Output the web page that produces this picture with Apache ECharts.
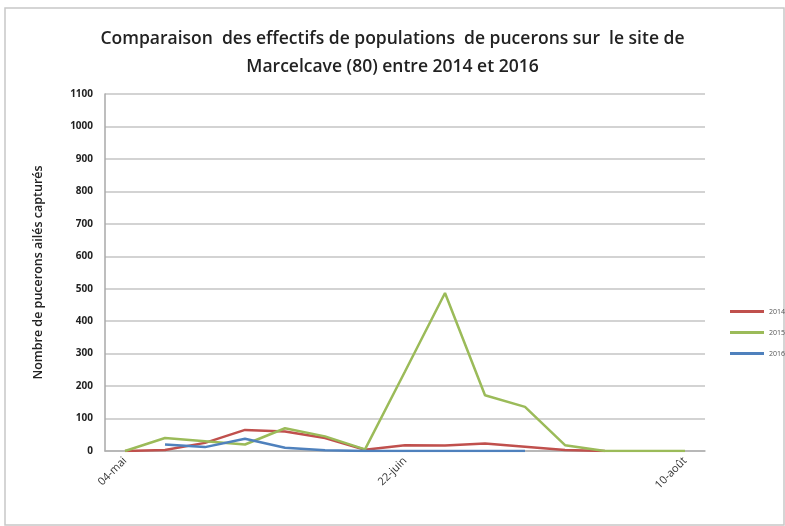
<!DOCTYPE html>
<html><head><meta charset="utf-8">
<script src="https://cdn.jsdelivr.net/npm/echarts@6/dist/echarts.min.js"></script>
<style>html,body{margin:0;padding:0;background:#fff}#c{width:785px;height:526px}</style>
</head><body><div id="c"></div>
<script>
const categories = ['04-mai','11-mai','18-mai','25-mai','01-juin','08-juin','15-juin','22-juin','29-juin','06-juil','13-juil','20-juil','27-juil','03-août','10-août'];
const s2014 = [0, 3, 25, 65, 60, 40, 4, 18, 17, 23, 13, 3, 0, null, null];
const s2015 = [0, 40, 30, 20, 70, 45, 5, 245, 487, 172, 136, 18, 0, 0, 0];
const s2016 = [null, 20, 12, 38, 10, 2, 0, 0, 0, 0, 0, null, null, null, null];
const seriesNames = ['2014', '2015', '2016'];
const colors = ['#c0504d', '#9bbb59', '#4f81bd'];
const yTicks = {min: 0, max: 1100, interval: 100};

const chart = echarts.init(document.getElementById('c'), null, {renderer: 'canvas'});
const mk = (name, data, color) => ({
  name, type: 'line', data, symbol: 'none', smooth: false, connectNulls: false,
  lineStyle: {width: 2.5, color}, itemStyle: {color}
});
chart.setOption({
  animation: false,
  backgroundColor: '#fff',
  graphic: [{type: 'rect', shape: {x: 5, y: 8, width: 779, height: 517}, style: {fill: 'none', stroke: '#c8c8c8', lineWidth: 1.5}, silent: true}],
  title: {
    text: 'Comparaison  des effectifs de populations  de pucerons sur  le site de\nMarcelcave (80) entre 2014 et 2016',
    left: 'center', top: 20,
    textStyle: {fontFamily: 'Open Sans', fontSize: 17.5, fontWeight: 600, color: '#222', lineHeight: 28}
  },
  legend: {
    orient: 'vertical', left: 725, top: 303, itemWidth: 34, itemHeight: 3, itemGap: 14,
    icon: 'rect', data: seriesNames,
    textStyle: {fontFamily: 'Open Sans', fontSize: 7, color: '#555'}
  },
  grid: {left: 105, top: 94, width: 600, height: 357, containLabel: false},
  xAxis: {
    type: 'category', data: categories, boundaryGap: true,
    axisLine: {lineStyle: {color: '#b0b0b0', width: 1.5}},
    axisTick: {show: false},
    axisLabel: {interval: 6, rotate: 45, fontFamily: 'Open Sans', fontSize: 11, color: '#333', margin: 8}
  },
  yAxis: {
    type: 'value', min: yTicks.min, max: yTicks.max, interval: yTicks.interval,
    name: 'Nombre de pucerons ailés capturés', nameLocation: 'middle', nameGap: 60, nameRotate: 90,
    nameTextStyle: {fontFamily: 'Open Sans', fontSize: 12.5, fontWeight: 600, color: '#222'},
    axisLine: {show: true, lineStyle: {color: '#a8a8a8', width: 1.5}},
    axisTick: {show: false},
    axisLabel: {fontFamily: 'Open Sans', fontSize: 10, fontWeight: 700, color: '#222', margin: 12, formatter: v => String(v)},
    splitLine: {lineStyle: {color: '#c4c4c4', width: 1.5}}
  },
  series: [mk(seriesNames[0], s2014, colors[0]), mk(seriesNames[1], s2015, colors[1]), mk(seriesNames[2], s2016, colors[2])]
});
</script></body></html>
